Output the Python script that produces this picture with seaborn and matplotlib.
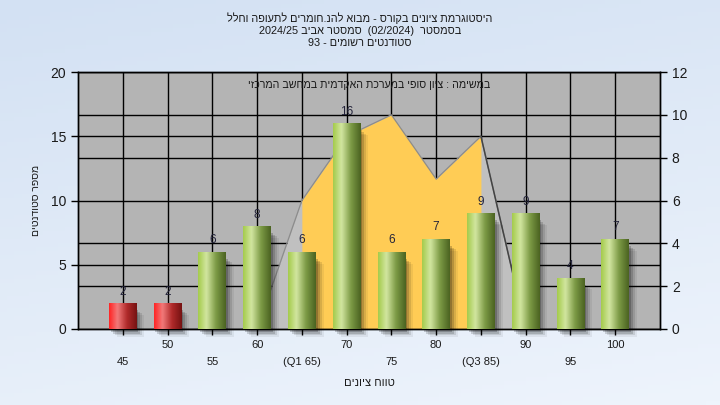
import numpy as np
import pandas as pd
import matplotlib
matplotlib.use("Agg")
import matplotlib.pyplot as plt
from matplotlib.colors import LinearSegmentedColormap
from matplotlib.patches import Rectangle
import seaborn as sns

# data
categories = ["45", "50", "55", "60", "(Q1 65)", "70", "75", "80", "(Q3 85)", "90", "95", "100"]
counts = [2, 2, 6, 8, 6, 16, 6, 7, 9, 9, 4, 7]
fail_cats = ["45", "50"]
# distribution area on the right axis (nan = not drawn)
area_values = [np.nan, np.nan, np.nan, 0, 6, 9, 10, 7, 9, 0, np.nan, np.nan]
q1_label = "(Q1 65)"
q3_label = "(Q3 85)"

title_main = "היסטוגרמת ציונים בקורס - מבוא להנ.חומרים לתעופה וחלל"
semester_word = "בסמסטר"
semester_name = "סמסטר אביב"
semester_code = "(02/2024)"
year = "2024/25"
registered_word = "סטודנטים רשומים"
registered = 93
subtitle = "במשימה : ציון סופי במערכת האקדמית במחשב המרכזי"
xlabel = "טווח ציונים"
ylabel = "מספר סטודנטים"


def vis(s):
    # matplotlib has no bidi support: reverse Hebrew into visual order
    return s[::-1]


sns.set_theme(style="white")
plt.rcParams["font.family"] = ["Liberation Sans", "DejaVu Sans"]

fig = plt.figure(figsize=(7.2, 4.05), dpi=100)

# light blue background gradient
bg = fig.add_axes([0, 0, 1, 1], zorder=-5)
gy, gx = np.mgrid[0:1:100j, 0:1:100j]
grad = 0.75 * gy + 0.25 * gx
bg_cmap = LinearSegmentedColormap.from_list("bg", ["#D3E1F3", "#EEF4FC"])
bg.imshow(grad, cmap=bg_cmap, aspect="auto", extent=[0, 1, 0, 1], origin="upper")
bg.axis("off")

ax = fig.add_axes([78 / 720, 76 / 405, 582 / 720, 257 / 405])
ax2 = ax.twinx()
ax.set_zorder(2)
ax2.set_zorder(1)
ax.patch.set_visible(False)
ax2.patch.set_visible(True)
ax2.patch.set_facecolor("#B4B4B4")

df = pd.DataFrame({"range": categories, "count": counts})
palette = {c: ("#E82020" if c in fail_cats else "#8DB040") for c in categories}
sns.barplot(data=df, x="range", y="count", hue="range", palette=palette,
            order=categories, width=0.62, legend=False, ax=ax, zorder=3,
            saturation=1, linewidth=0, edgecolor="none")

# gridlines and area on the lower (right-axis) layer
ax2.set_ylim(0, 12)
ax2.set_yticks(range(0, 13, 2))
ax2.set_yticks([3, 9], minor=True)
ax2.grid(axis="y", which="both", color="black", lw=1, zorder=0.5)
ax2.set_axisbelow(True)
for i in range(len(categories)):
    ax2.axvline(i, color="black", lw=1, zorder=0.5)

xs = np.arange(len(categories))
av = np.array(area_values, dtype=float)
i1, i3 = categories.index(q1_label), categories.index(q3_label)
inner = (xs >= i1) & (xs <= i3)
ax2.fill_between(xs, av, color="#C0C0C0", zorder=1, lw=0)
ax2.fill_between(xs, np.where(inner, av, np.nan), color="#FFCC55", zorder=1.1, lw=0)
ax2.plot(xs, av, color="#8C8C8C", lw=0.9, zorder=1.2)
ax2.plot(xs[i3:i3 + 2], av[i3:i3 + 2], color="#444444", lw=1.1, zorder=1.3)

# gradient + shadow on the bars
green_cmap = LinearSegmentedColormap.from_list(
    "g", [(0, "#A4CB4C"), (0.3, "#D2E6A0"), (0.65, "#7C9A45"), (1, "#4B6321")])
red_cmap = LinearSegmentedColormap.from_list(
    "r", [(0, "#FF2424"), (0.3, "#F27A7A"), (0.65, "#B02A2A"), (1, "#761212")])
row = np.linspace(0, 1, 64).reshape(1, -1)
for p, cat in zip(ax.patches, categories):
    x0, y0, w, h = p.get_x(), p.get_y(), p.get_width(), p.get_height()
    for k, a in enumerate([0.2, 0.15, 0.1, 0.06]):
        dx = 0.04 + 0.045 * k
        dy = 0.25 + 0.12 * k
        ax.add_patch(Rectangle((x0 + dx, y0 - dy), w, h - 0.3, color="black",
                               alpha=a, lw=0, zorder=2, clip_on=False))
    cmap = red_cmap if cat in fail_cats else green_cmap
    im = ax.imshow(row, cmap=cmap, extent=[x0, x0 + w, y0, y0 + h],
                   aspect="auto", interpolation="bicubic", zorder=3.5)
    im.set_clip_path(p)
    ax.annotate(str(int(h)), (x0 + w / 2, h), xytext=(0, 4),
                textcoords="offset points", ha="center", va="bottom",
                fontsize=8.5, color="#23233A", zorder=5)

ax.set_xlim(-1, len(categories))
ax.set_ylim(0, 20)
ax.set_yticks(range(0, 21, 5))
ax.grid(False)

ax.set_xticks(xs)
ax.set_xticklabels(categories)
ax.tick_params(axis="x", length=4, width=1, color="black", labelsize=8,
               labelcolor="#1A1A1A", direction="out", bottom=True)
for i, t in enumerate(ax.xaxis.get_major_ticks()):
    t.set_pad(4 if i % 2 else 16)
ax.tick_params(axis="y", length=5, width=1, color="black", labelsize=10,
               labelcolor="#1A1A1A", direction="out", left=True)
ax2.tick_params(axis="y", which="major", length=5, width=1, color="black",
                labelsize=10, labelcolor="#1A1A1A", direction="out", right=True)
ax2.tick_params(axis="y", which="minor", length=0)
for a in (ax, ax2):
    for s in a.spines.values():
        s.set_color("black")
        s.set_linewidth(1)

ax.set_xlabel(vis(xlabel), fontsize=8, color="#1A1A1A", labelpad=8)
ax.set_ylabel(vis(ylabel), fontsize=7.5, color="#1A1A1A", labelpad=7)
ax2.set_ylabel("")

ax.text(0.5, 0.95, vis(subtitle), transform=ax.transAxes, ha="center",
        va="center", fontsize=7.7, color="#1A1A1A", zorder=6)

fig.text(0.5, 1 - 18 / 405, vis(title_main), ha="center", va="center",
         fontsize=7.8, color="#1A1A1A")
fig.text(0.5, 1 - 30.5 / 405,
         year + " " + vis(semester_name) + "  " + semester_code + "  " + vis(semester_word),
         ha="center", va="center", fontsize=7.8, color="#1A1A1A")
fig.text(0.5, 1 - 43 / 405, f"{registered} - " + vis(registered_word),
         ha="center", va="center", fontsize=7.8, color="#1A1A1A")

fig.savefig("out.png", dpi=100)
